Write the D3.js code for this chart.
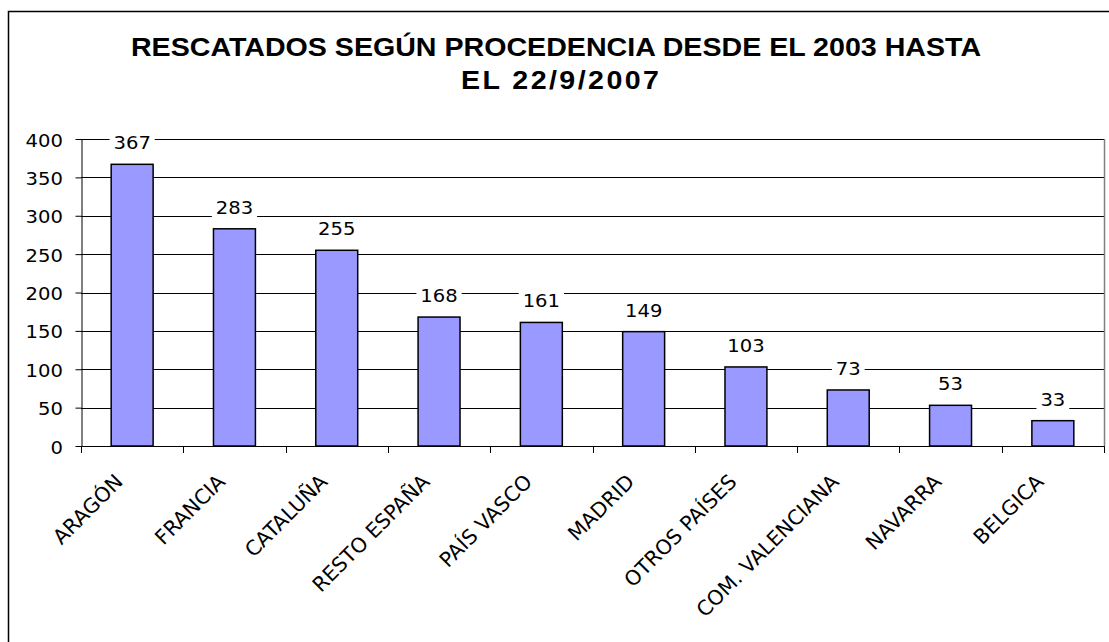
<!DOCTYPE html>
<html>
<head>
    <meta charset="utf-8">
    <title>Rescatados según procedencia</title>
    <style>
        body { margin: 0; background: #fff; }
        svg { display: block; }
        .lbl { font-family: "DejaVu Sans", Verdana, sans-serif; font-size: 17.5px; fill: #000; }
        .cat { font-family: "DejaVu Sans", Verdana, sans-serif; font-size: 20.5px; fill: #000; }
        .title { font-family: "Liberation Sans", Arial, sans-serif; font-size: 26px; font-weight: bold; fill: #000; }
    </style>
    <script src="https://d3js.org/d3.v7.min.js"></script>
</head>
<body>
    <svg width="1109" height="642"></svg>
    <script>
        const categories = ['ARAGÓN', 'FRANCIA', 'CATALUÑA', 'RESTO ESPAÑA', 'PAÍS VASCO',
                            'MADRID', 'OTROS PAÍSES', 'COM. VALENCIANA', 'NAVARRA', 'BELGICA'];
        const values = [367, 283, 255, 168, 161, 149, 103, 73, 53, 33];
        const yTicks = [0, 50, 100, 150, 200, 250, 300, 350, 400];
        const titleLines = ['RESCATADOS SEGÚN PROCEDENCIA DESDE EL 2003 HASTA', 'EL 22/9/2007'];

        // the original chart is a bit wider than tall, numbers look stretched sideways
        const SX = 1.12;

        const svg = d3.select("svg");

        // outer chart border (runs off the right and bottom of the picture)
        svg.append("rect")
            .attr("x", 8.5).attr("y", 11.5)
            .attr("width", 1120).attr("height", 660)
            .attr("fill", "none").attr("stroke", "#000").attr("stroke-width", 1.5);

        // title
        svg.append("text")
            .attr("class", "title")
            .attr("text-anchor", "middle")
            .attr("transform", "translate(556,56) scale(1.1,1)")
            .text(titleLines[0]);
        svg.append("text")
            .attr("class", "title")
            .attr("text-anchor", "middle")
            .attr("textLength", 180).attr("lengthAdjust", "spacing")
            .attr("transform", "translate(560,89) scale(1.1,1)")
            .text(titleLines[1]);

        const pLeft = 81, pRight = 1104, pTop = 139, pBottom = 446;

        const x = d3.scaleBand().domain(categories).range([pLeft, pRight]).paddingInner(0.59).paddingOuter(0.295);
        const xb = d3.scaleBand().domain(categories).range([pLeft, pRight]);
        const y = d3.scaleLinear().domain([0, 400]).range([pBottom, pTop]);

        // gridlines
        svg.selectAll(".grid")
            .data(yTicks.filter(d => d > 0))
            .enter()
            .append("line")
            .attr("x1", pLeft).attr("x2", pRight)
            .attr("y1", d => Math.round(y(d)) + 0.5)
            .attr("y2", d => Math.round(y(d)) + 0.5)
            .attr("stroke", "#000").attr("stroke-width", 1);

        // plot area right border
        svg.append("line")
            .attr("x1", pRight + 0.5).attr("x2", pRight + 0.5)
            .attr("y1", pTop).attr("y2", pBottom)
            .attr("stroke", "#808080").attr("stroke-width", 1.5);

        // y axis (ticks + line), labels drawn separately
        const yAxis = svg.append("g")
            .attr("transform", `translate(${pLeft + 0.5},0)`)
            .call(d3.axisLeft(y).tickValues(yTicks).tickSize(6).tickFormat("").tickSizeOuter(0));
        yAxis.select(".domain").attr("stroke", "#000");
        yAxis.selectAll(".tick line").attr("stroke", "#000");

        svg.selectAll(".ylab")
            .data(yTicks)
            .enter()
            .append("text")
            .attr("class", "lbl")
            .attr("text-anchor", "end")
            .attr("transform", d => `translate(63,${y(d) + 7.5}) scale(${SX},1)`)
            .text(d => d);

        // bars
        svg.selectAll(".bar")
            .data(values)
            .enter()
            .append("rect")
            .attr("x", (d, i) => x(categories[i]))
            .attr("y", d => y(d))
            .attr("width", x.bandwidth())
            .attr("height", d => pBottom - y(d))
            .attr("fill", "#9999FF")
            .attr("stroke", "#000").attr("stroke-width", 1.5);

        // x axis line and ticks at category boundaries
        svg.append("line")
            .attr("x1", pLeft).attr("x2", pRight + 1)
            .attr("y1", pBottom + 0.5).attr("y2", pBottom + 0.5)
            .attr("stroke", "#000").attr("stroke-width", 1.2);
        svg.selectAll(".xtick")
            .data(categories.concat(['end']))
            .enter()
            .append("line")
            .attr("x1", (d, i) => Math.round(pLeft + i * xb.bandwidth()) + 0.5)
            .attr("x2", (d, i) => Math.round(pLeft + i * xb.bandwidth()) + 0.5)
            .attr("y1", pBottom).attr("y2", pBottom + 7)
            .attr("stroke", "#000");

        // rotated category labels
        svg.selectAll(".xlab")
            .data(categories)
            .enter()
            .append("text")
            .attr("class", "cat")
            .attr("text-anchor", "end")
            .attr("transform", d => `translate(${xb(d) + xb.bandwidth() / 2 - 8},${pBottom + 37}) rotate(-45)`)
            .text(d => d);

        // value labels with white backing
        const labels = svg.selectAll(".val")
            .data(values)
            .enter()
            .append("g")
            .attr("transform", (d, i) => `translate(${x(categories[i]) + x.bandwidth() / 2},${y(d) - 15}) scale(${SX},1)`);
        labels.append("text")
            .attr("class", "lbl")
            .attr("text-anchor", "middle")
            .text(d => d);
        labels.each(function () {
            const g = d3.select(this);
            const bb = g.select("text").node().getBBox();
            g.insert("rect", "text")
                .attr("x", bb.x - 3.5).attr("y", bb.y - 1)
                .attr("width", bb.width + 7).attr("height", bb.height + 2)
                .attr("fill", "#fff");
        });
    </script>
</body>
</html>
